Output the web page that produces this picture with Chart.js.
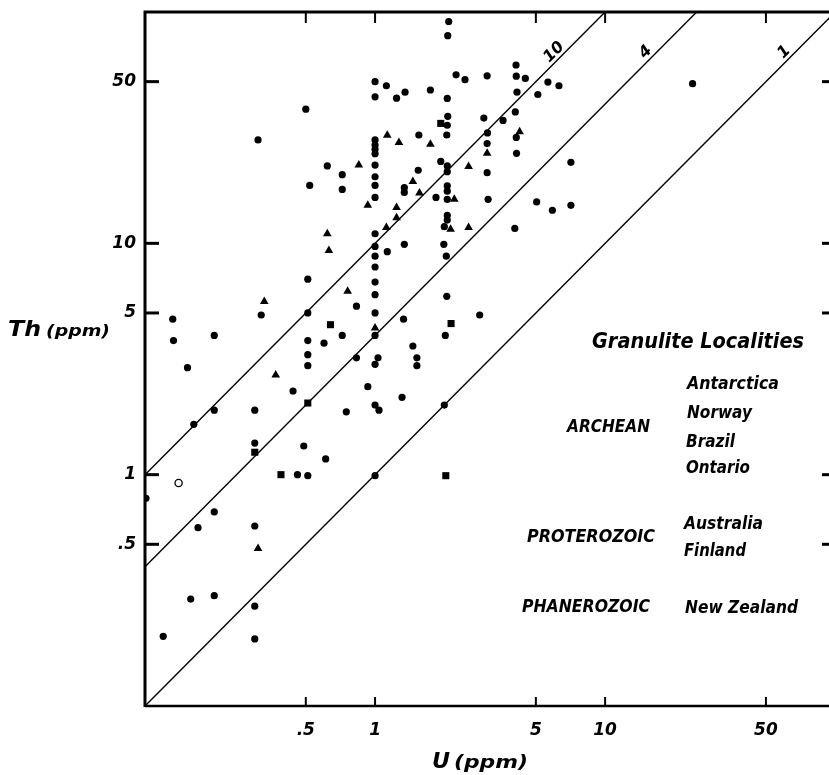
<!DOCTYPE html>
<html><head><meta charset="utf-8">
<script src="https://cdn.jsdelivr.net/npm/chart.js@4"></script>
<style>html,body{margin:0;padding:0;background:#fff}#wrap{width:829px;height:775px;position:relative}</style>
</head><body><div id="wrap"><canvas id="c"></canvas></div>
<script>
// ---- data (U ppm, Th ppm) ----
const circleU=[1.0,1.12,1.0,0.5,0.31,1.0,1.0,1.0,1.0,0.62,1.0,0.72,1.0,0.52,0.72,1.0,1.0,1.0,1.0,
2.09,2.07,4.1,2.25,2.46,3.07,4.11,4.5,5.64,6.3,24,4.14,5.1,1.24,1.35,1.74,2.06,2.97,3.6,4.07,2.07,
2.06,2.05,1.55,3.08,3.07,4.11,4.12,1.93,2.06,2.06,1.54,3.07,7.1,1.34,1.34,1.84,2.06,2.06,2.06,3.1,
2.06,2.06,2.0,5.04,5.9,7.1,4.05,1.34,1.99,1.13,1.0,1.0,0.51,1.0,1.0,0.83,1.0,0.132,0.32,0.51,
1.0,0.133,0.2,0.51,0.6,0.72,0.83,1.03,1.0,0.51,0.51,0.153,0.44,0.93,1.0,1.04,0.2,0.163,0.3,0.75,
0.3,0.49,0.61,0.46,0.51,1.0,2.04,2.05,1.33,2.85,2.02,1.46,1.52,1.52,1.31,2.0,
0.101,0.2,0.17,0.3,0.158,0.2,0.3,0.12,0.3];
const circleTh=[50,48,43,38,28,28,26.6,25.5,24.4,21.6,21.8,19.8,19.4,17.8,17.1,17.8,15.8,11,9.7,
91,79,59,53.5,51,53,52.8,51.6,49.8,48,49,45,44,42.4,45,46,42.3,34.8,34,37,35.4,
32.4,29.4,29.4,30,27,28.7,24.5,22.6,21.6,20.4,20.7,20.2,22.4,17.4,16.6,15.8,17.7,16.8,15.5,15.5,
13.2,12.6,11.8,15.1,13.9,14.6,11.6,9.9,9.9,9.2,8.8,7.9,7.0,6.8,6.0,5.35,5.0,4.7,4.9,5.0,
4.0,3.8,4.0,3.8,3.7,4.0,3.2,3.2,3.0,3.3,2.96,2.9,2.3,2.4,2.0,1.9,1.9,1.65,1.9,1.87,
1.37,1.33,1.17,1.0,0.99,0.99,8.8,5.9,4.7,4.9,4.0,3.6,3.2,2.96,2.16,2.0,
0.79,0.69,0.59,0.6,0.29,0.3,0.27,0.2,0.195];
const triangleU=[1.13,0.85,0.93,0.62,1.12,1.27,1.74,4.25,3.07,2.55,1.46,1.56,2.21,1.24,1.24,2.13,2.55,0.63,0.76,0.33,1.0,0.37,0.31];
const triangleTh=[29.3,21.8,14.6,11,11.7,27.3,26.8,30.4,24.5,21.5,18.5,16.5,15.5,14.3,12.9,11.5,11.7,9.3,6.2,5.6,4.3,2.7,0.48];
const squareU=[1.93,0.64,0.51,0.3,0.39,2.03,2.14];
const squareTh=[33,4.45,2.04,1.25,1.0,0.99,4.5];
const openU=[0.14];
const openTh=[0.92];
// Th/U reference lines
const ratios=[10,4,1];
const ratioLabels=['10','4','1'];
const ratioLabelTh=67;
// axes
const tickValues=[0.5,1,5,10,50];
const tickLabels=['.5','1','5','10','50'];
const xTitle=['U','(ppm)'];
const yTitle=['Th','(ppm)'];
const legendTitle='Granulite Localities';
const eras=['ARCHEAN','PROTEROZOIC','PHANEROZOIC'];
const localities=['Antarctica','Norway','Brazil','Ontario','Australia','Finland','New Zealand'];

// ---- text layout (pixels) ----
const FAM='"DejaVu Sans", "Liberation Sans", sans-serif';
const textLayout={
  title:{x:592,y:348,size:22,w:212},
  eras:[{x:567,y:432,size:17,w:83},{x:527,y:541.5,size:17,w:128},{x:522,y:611.5,size:17,w:128}],
  locs:[{x:687,y:389,w:92},{x:687,y:418,w:65},{x:686,y:446.5,w:49},{x:686,y:473,w:64},
        {x:684,y:528.5,w:79},{x:684,y:556,w:62},{x:685,y:613,w:113}],
  locSize:17
};

function fitText(ctx,text,x,y,size,w){
  ctx.save();
  ctx.font=`italic bold ${size}px ${FAM}`;
  const m=ctx.measureText(text).width;
  ctx.translate(x,y);
  ctx.scale(w/m,1);
  ctx.fillText(text,0,0);
  ctx.restore();
}

const framePlugin={
  id:'frame',
  afterDraw(chart){
    const ctx=chart.ctx, a=chart.chartArea, xs=chart.scales.x, ys=chart.scales.y;
    const L=a.left,R=a.right,T=a.top,B=a.bottom;
    ctx.save();
    ctx.strokeStyle='#000';ctx.fillStyle='#000';ctx.lineCap='butt';
    ctx.lineWidth=3;
    ctx.beginPath();ctx.moveTo(L,B+1);ctx.lineTo(L,T);ctx.lineTo(R,T);ctx.stroke();
    ctx.lineWidth=2.5;
    ctx.beginPath();ctx.moveTo(L,B);ctx.lineTo(R,B);ctx.stroke();
    tickValues.forEach(v=>{
      const px=xs.getPixelForValue(v), py=ys.getPixelForValue(v);
      ctx.lineWidth=2;
      ctx.beginPath();ctx.moveTo(px,T);ctx.lineTo(px,T+11);ctx.stroke();
      ctx.beginPath();ctx.moveTo(px,B);ctx.lineTo(px,B-9);ctx.stroke();
      ctx.lineWidth=3;
      ctx.beginPath();ctx.moveTo(L,py);ctx.lineTo(L+14,py);ctx.stroke();
      ctx.beginPath();ctx.moveTo(R-7,py);ctx.lineTo(R,py);ctx.stroke();
    });
    // ratio line labels
    ratios.forEach((r,i)=>{
      const u=ratioLabelTh/r;
      const px=xs.getPixelForValue(u), py=ys.getPixelForValue(ratioLabelTh);
      const p2x=xs.getPixelForValue(u*2), p2y=ys.getPixelForValue(ratioLabelTh*2);
      const ang=Math.atan2(p2y-py,p2x-px);
      ctx.save();
      ctx.translate(px-11,py);
      ctx.rotate(ang);
      ctx.font=`italic bold 16px ${FAM}`;
      ctx.textAlign='center';ctx.textBaseline='middle';
      ctx.fillText(ratioLabels[i],0,0);
      ctx.restore();
    });
    // axis titles
    ctx.textBaseline='alphabetic';ctx.textAlign='left';
    fitText(ctx,yTitle[0],8,336,22,33);
    fitText(ctx,yTitle[1],46,336,16,64);
    fitText(ctx,xTitle[0],432,768,22,18);
    fitText(ctx,xTitle[1],454,768,17,74);
    // legend text
    const tl=textLayout;
    fitText(ctx,legendTitle,tl.title.x,tl.title.y,tl.title.size,tl.title.w);
    eras.forEach((e,i)=>{const p=tl.eras[i];fitText(ctx,e,p.x,p.y,p.size,p.w);});
    localities.forEach((t,i)=>{const p=tl.locs[i];fitText(ctx,t,p.x,p.y,tl.locSize,p.w);});
    ctx.restore();
  }
};

const tickFont={family:FAM,size:17,style:'italic',weight:'bold'};
const pts=(us,ths)=>us.map((u,i)=>({x:u,y:ths[i]}));
function noPad(s){s.paddingLeft=0;s.paddingRight=0;s.paddingTop=0;s.paddingBottom=0;}

new Chart(document.getElementById('c'),{
  type:'scatter',
  data:{datasets:[
    ...ratios.map(r=>({type:'line',data:[{x:0.1,y:0.1*r},{x:100,y:100*r}],borderColor:'#000',borderWidth:1.4,pointRadius:0,fill:false,order:5})),
    {data:pts(circleU,circleTh),pointStyle:'circle',radius:3.6,backgroundColor:'#000',borderColor:'#000',borderWidth:0,order:1},
    {data:pts(triangleU,triangleTh),pointStyle:'triangle',radius:5,backgroundColor:'#000',borderColor:'#000',borderWidth:0,order:1},
    {data:pts(squareU,squareTh),pointStyle:'rect',radius:5,backgroundColor:'#000',borderColor:'#000',borderWidth:0,order:1},
    {data:pts(openU,openTh),pointStyle:'circle',radius:3.6,backgroundColor:'#fff',borderColor:'#000',borderWidth:1.3,order:1}
  ]},
  options:{
    responsive:true,maintainAspectRatio:false,animation:false,
    layout:{autoPadding:false,padding:{top:12,right:0,left:0,bottom:0}},
    plugins:{legend:{display:false},tooltip:{enabled:false}},
    scales:{
      x:{type:'logarithmic',min:0.1,max:94,position:'bottom',
        grid:{display:false,drawTicks:false},border:{display:false},
        afterFit(s){s.height=69;noPad(s);},
        afterBuildTicks(s){s.ticks=tickValues.map(v=>({value:v}));},
        ticks:{callback:(v)=>tickLabels[tickValues.indexOf(v)],font:tickFont,color:'#000',padding:14,autoSkip:false,maxRotation:0}},
      y:{type:'logarithmic',min:0.1,max:100,position:'left',
        grid:{display:false,drawTicks:false},border:{display:false},
        afterFit(s){s.width=145;noPad(s);},
        afterBuildTicks(s){s.ticks=tickValues.map(v=>({value:v}));},
        ticks:{callback:(v)=>tickLabels[tickValues.indexOf(v)],font:tickFont,color:'#000',padding:9,autoSkip:false}}
    }
  },
  plugins:[framePlugin]
});
</script></body></html>
